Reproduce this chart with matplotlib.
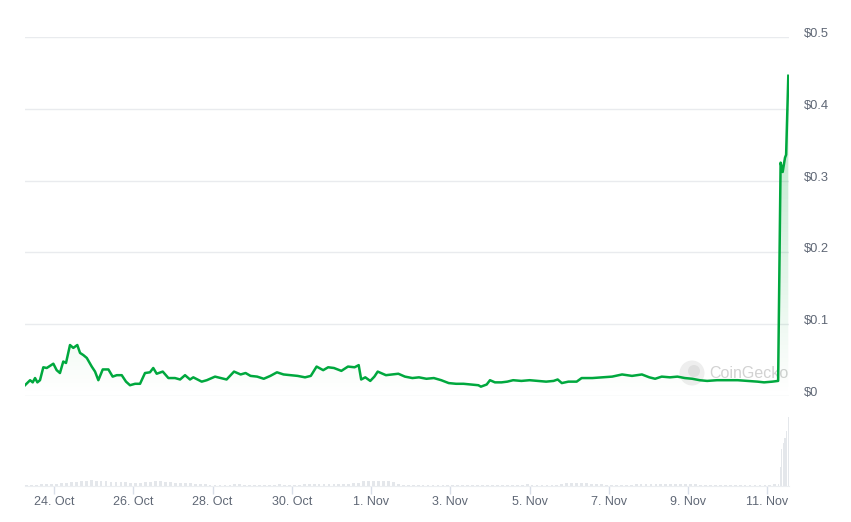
import matplotlib
matplotlib.use("Agg")
import matplotlib.dates as mdates
import matplotlib.patches as mpatches
import matplotlib.pyplot as plt
import matplotlib.ticker as mticker
import numpy as np
import pandas as pd
from matplotlib.transforms import IdentityTransform

# price (USD)
price_times = [
    "10-23 06:25", "10-23 09:30", "10-23 11:05", "10-23 12:30", "10-23 13:55", "10-23 15:30",
    "10-23 17:30", "10-23 19:35", "10-23 23:35", "10-24 01:35", "10-24 03:35", "10-24 05:35",
    "10-24 07:15", "10-24 09:40", "10-24 11:40", "10-24 14:05", "10-24 15:45", "10-24 17:45",
    "10-24 19:50", "10-24 22:50", "10-25 00:50", "10-25 02:50", "10-25 05:30", "10-25 08:55",
    "10-25 11:30", "10-25 14:00", "10-25 17:00", "10-25 19:35", "10-25 22:00", "10-26 01:05",
    "10-26 04:05", "10-26 07:05", "10-26 10:05", "10-26 12:05", "10-26 14:10", "10-26 17:50",
    "10-26 21:15", "10-27 01:15", "10-27 04:20", "10-27 07:20", "10-27 10:20", "10-27 12:20",
    "10-27 17:25", "10-27 20:30", "10-28 01:30", "10-28 05:00", "10-28 08:30", "10-28 13:00",
    "10-28 17:00", "10-28 20:00", "10-28 23:00", "10-29 03:00", "10-29 07:00", "10-29 11:00",
    "10-29 15:00", "10-29 19:00", "10-29 23:30", "10-30 03:30", "10-30 08:00", "10-30 11:30",
    "10-30 15:00", "10-30 19:00", "10-30 22:00", "10-31 01:30", "10-31 06:00", "10-31 10:00",
    "10-31 14:00", "10-31 16:30", "10-31 18:00", "10-31 20:30", "10-31 23:30", "11-01 02:00",
    "11-01 04:00", "11-01 09:00", "11-01 13:00", "11-01 16:30", "11-01 20:30", "11-02 01:00",
    "11-02 05:00", "11-02 09:30", "11-02 14:00", "11-02 18:30", "11-02 23:00", "11-03 03:30",
    "11-03 08:00", "11-03 12:30", "11-03 17:00", "11-03 18:30", "11-03 22:00", "11-04 00:00",
    "11-04 03:00", "11-04 07:00", "11-04 10:30", "11-04 14:00", "11-04 19:00", "11-05 00:00",
    "11-05 05:00", "11-05 10:00", "11-05 14:30", "11-05 17:00", "11-05 19:30", "11-05 23:30",
    "11-06 04:30", "11-06 07:30", "11-06 14:00", "11-06 20:00", "11-07 02:00", "11-07 08:00",
    "11-07 14:00", "11-07 20:00", "11-08 00:30", "11-08 04:00", "11-08 08:00", "11-08 13:00",
    "11-08 17:30", "11-08 22:00", "11-09 02:30", "11-09 07:00", "11-09 11:30", "11-09 17:30",
    "11-10 00:00", "11-10 06:00", "11-10 12:00", "11-10 18:00", "11-10 22:00", "11-11 03:00",
    "11-11 06:30", "11-11 08:00", "11-11 09:15", "11-11 10:40", "11-11 11:20", "11-11 12:40",
]
price_values = [
    0.015, 0.022, 0.019, 0.025, 0.019, 0.022,
    0.040, 0.039, 0.045, 0.036, 0.032, 0.048,
    0.046, 0.071, 0.067, 0.071, 0.060, 0.057,
    0.053, 0.041, 0.034, 0.022, 0.037, 0.037,
    0.027, 0.029, 0.029, 0.020, 0.015, 0.017,
    0.017, 0.032, 0.033, 0.039, 0.031, 0.034,
    0.025, 0.025, 0.023, 0.029, 0.023, 0.026,
    0.020, 0.022, 0.027, 0.025, 0.023, 0.034,
    0.030, 0.032, 0.028, 0.027, 0.024, 0.028,
    0.033, 0.030, 0.029, 0.028, 0.026, 0.028,
    0.041, 0.036, 0.040, 0.039, 0.035, 0.041,
    0.040, 0.043, 0.023, 0.026, 0.021, 0.027,
    0.034, 0.029, 0.030, 0.031, 0.027, 0.025,
    0.026, 0.024, 0.025, 0.022, 0.018, 0.017,
    0.017, 0.016, 0.015, 0.013, 0.016, 0.022,
    0.019, 0.019, 0.020, 0.022, 0.021, 0.022,
    0.021, 0.020, 0.021, 0.023, 0.018, 0.020,
    0.020, 0.025, 0.025, 0.026, 0.027, 0.030,
    0.028, 0.030, 0.026, 0.024, 0.027, 0.026,
    0.027, 0.025, 0.024, 0.022, 0.021, 0.022,
    0.022, 0.022, 0.021, 0.020, 0.019, 0.020,
    0.021, 0.325, 0.312, 0.332, 0.336, 0.446,
]

# volume in 3-hour buckets from 23 Oct 06:00, then hourly bars at the spike
vol_start = "2024-10-23 06:00"
vol_3h = [
    1, 1, 1, 2, 2, 2, 2, 3,
    3, 4, 4, 5, 5, 6, 5, 5,
    5, 4, 4, 4, 4, 3, 3, 3,
    4, 4, 5, 5, 4, 4, 3, 3,
    3, 3, 2, 2, 2, 1, 1, 1,
    1, 1, 2, 2, 1, 1, 1, 1,
    1, 1, 1, 2, 1, 1, 1, 1,
    2, 2, 2, 2, 2, 2, 2, 2,
    2, 2, 3, 3, 5, 5, 5, 5,
    5, 5, 4, 2, 1, 1, 1, 1,
    1, 1, 1, 1, 1, 1, 1, 1,
    1, 1, 1, 1, 1, 1, 1, 1,
    1, 1, 1, 1, 1, 2, 1, 1,
    1, 1, 1, 1, 2, 3, 3, 3,
    3, 3, 2, 2, 2, 1, 1, 1,
    1, 1, 1, 2, 2, 2, 2, 2,
    2, 2, 2, 2, 2, 2, 2, 2,
    1, 1, 1, 1, 1, 1, 1, 1,
    1, 1, 1, 1, 1, 1, 1, 2,
]
vol_spike_times = ["11-11 06:40", "11-11 07:40", "11-11 08:40", "11-11 09:40",
                   "11-11 10:40", "11-11 11:40", "11-11 12:40"]
vol_spike = [2, 19, 37, 43, 48, 55, 69]

tick_dates = ["2024-10-24", "2024-10-26", "2024-10-28", "2024-10-30", "2024-11-01",
              "2024-11-03", "2024-11-05", "2024-11-07", "2024-11-09", "2024-11-11"]
y_ticks = [0, 0.1, 0.2, 0.3, 0.4, 0.5]
y_tick_labels = ["$0", "$0.1", "$0.2", "$0.3", "$0.4", "$0.5"]

GREEN = "#00a83e"
GRID = "#e9ebee"
LABEL = "#5f6775"

plt.rcParams["font.family"] = ["Liberation Sans", "DejaVu Sans"]

t_price = pd.to_datetime(["2024-" + s for s in price_times])
p = np.array(price_values)
t_vol = pd.date_range(vol_start, periods=len(vol_3h), freq="3h")
t_spike = pd.to_datetime(["2024-" + s for s in vol_spike_times])

x_lo = pd.Timestamp("2024-10-23 06:25")
x_hi = pd.Timestamp("2024-11-11 13:05")

W, H = 851, 522
fig = plt.figure(figsize=(W / 100, H / 100), dpi=100)
ax = fig.add_axes([25 / W, 1 - 396 / H, 764 / W, 359 / H])
axv = fig.add_axes([25 / W, 1 - 486 / H, 764 / W, 70 / H])

# price panel
ax.set_xlim(x_lo, x_hi)
ax.set_ylim(0, 0.5)
for s in ax.spines.values():
    s.set_visible(False)
ax.set_xticks([])
ax.yaxis.tick_right()
ax.set_yticks(y_ticks)
ax.set_yticklabels(y_tick_labels)
ax.tick_params(axis="y", length=0, pad=11, labelsize=9.3, labelcolor=LABEL)
for lab in ax.get_yticklabels():
    lab.set_verticalalignment("baseline")
ax.grid(axis="y", color=GRID, linewidth=1)
ax.set_axisbelow(True)

# gradient fill under the line
xn = mdates.date2num(t_price)
grad = np.zeros((256, 1, 4))
grad[:, :, :3] = matplotlib.colors.to_rgb(GREEN)
grad[:, 0, 3] = np.linspace(0.30, 0.0, 256)
im = ax.imshow(grad, aspect="auto", origin="upper",
               extent=[xn[0], xn[-1], 0, p.max()], zorder=3)
poly = mpatches.Polygon(np.column_stack([np.r_[xn[0], xn, xn[-1]], np.r_[0, p, 0]]),
                        closed=True, facecolor="none", edgecolor="none")
ax.add_patch(poly)
im.set_clip_path(poly)
ax.set_xlim(x_lo, x_hi)
ax.set_ylim(0, 0.5)

ax.plot(t_price, p, color=GREEN, linewidth=1.8, zorder=4, solid_joinstyle="round")

# watermark
ax.add_patch(mpatches.Circle((692, H - 373), 12.5, transform=IdentityTransform(),
                             facecolor="#eeeeee", edgecolor="none", zorder=2))
ax.add_patch(mpatches.Circle((694, H - 371), 6, transform=IdentityTransform(),
                             facecolor="#dfdfdf", edgecolor="none", zorder=2))
ax.text(709, H - 373, "CoinGecko", fontsize=11.5, color="#d2d2d2",
        va="center", ha="left", transform=IdentityTransform(), zorder=2)
ax.set_zorder(1)
ax.patch.set_visible(False)

# volume panel
axv.set_xlim(x_lo, x_hi)
axv.bar(t_vol + pd.Timedelta(hours=1.5), vol_3h, width=0.07, color="#e4e7eb", linewidth=0)
axv.bar(t_spike, vol_spike, width=0.028, color="#e4e7eb", linewidth=0)
axv.set_ylim(0, 70)
for k, s in axv.spines.items():
    s.set_visible(k == "bottom")
axv.spines["bottom"].set_color("#eceef1")
axv.set_yticks([])
axv.set_xticks(pd.to_datetime(tick_dates))
axv.xaxis.set_major_formatter(
    mticker.FuncFormatter(lambda v, pos: f"{mdates.num2date(v).day}. {mdates.num2date(v):%b}"))
axv.tick_params(axis="x", length=6, width=1, color="#d8dee8", pad=1.5,
                labelsize=9, labelcolor=LABEL)
axv.patch.set_visible(False)

fig.savefig("out.png", dpi=100)
